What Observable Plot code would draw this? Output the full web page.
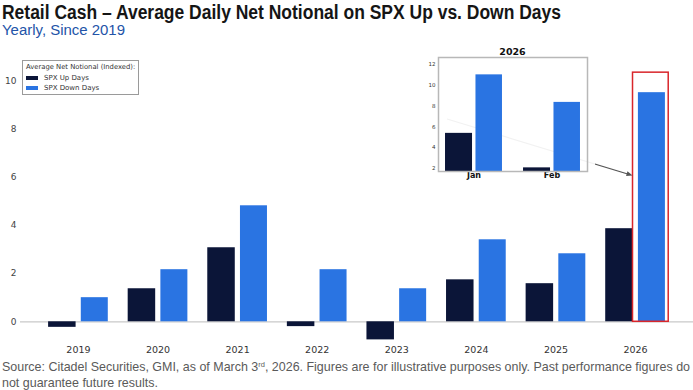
<!DOCTYPE html>
<html><head><meta charset="utf-8">
<script src="https://cdn.jsdelivr.net/npm/d3@7"></script>
<script src="https://cdn.jsdelivr.net/npm/@observablehq/plot@0.6"></script>
<style>
body{margin:0;background:#fff;}
#wrap{position:relative;width:693px;height:390px;overflow:hidden;background:#fff;font-family:"Liberation Sans",Arial,sans-serif;}
.abs{position:absolute;white-space:nowrap;transform-origin:0 0;}
#title{left:2px;top:2px;font-weight:bold;font-size:20px;line-height:20px;color:#151515;font-family:"Liberation Sans Narrow","Arial Narrow","Liberation Sans",sans-serif;}
#subtitle{left:2px;top:23px;font-size:14px;line-height:14px;color:#2354a8;font-family:"Liberation Sans Narrow","Arial Narrow","Liberation Sans",sans-serif;}
.foot{left:2px;font-size:13px;line-height:13px;color:#5a5a5a;font-family:"Liberation Sans Narrow","Arial Narrow","Liberation Sans",sans-serif;}
#main{left:0;top:40px;}
#inset{left:420px;top:44px;background:rgba(255,255,255,0.92);}
#insetTitle{left:438px;width:149px;top:46px;text-align:center;font:bold 9.5px "DejaVu Sans",sans-serif;color:#111;}
#legend{left:22px;top:60px;width:115px;height:33px;border:1px solid #9a9a9a;background:#fff;font-family:"DejaVu Sans",sans-serif;color:#333;}
#legend .lt{position:absolute;left:3px;top:3px;font-size:6.8px;line-height:7px;white-space:nowrap;}
#legend .sw{position:absolute;left:3px;width:12px;height:4px;}
#legend .ll{position:absolute;left:21px;font-size:7px;line-height:7px;white-space:nowrap;}
#overlay{left:0;top:0;}
</style></head>
<body><div id="wrap">
<div id="title" class="abs">Retail Cash – Average Daily Net Notional on SPX Up vs. Down Days</div>
<div id="subtitle" class="abs">Yearly, Since 2019</div>
<div id="main" class="abs"></div>
<svg id="arrowLayer" class="abs" width="693" height="390" style="left:0;top:0;"></svg>
<div id="inset" class="abs"></div>
<div id="insetTitle" class="abs">2026</div>
<div id="legend" class="abs">
  <div class="lt">Average Net Notional (Indexed):</div>
  <div class="sw" style="top:15px;background:#0b1538"></div><div class="ll" style="top:14px">SPX Up Days</div>
  <div class="sw" style="top:25px;background:#2a74e2"></div><div class="ll" style="top:24px">SPX Down Days</div>
</div>
<div id="foot1" class="abs foot" style="top:360px">Source: Citadel Securities, GMI, as of March 3<sup style="font-size:0.6em;vertical-align:0.5em;line-height:0">rd</sup>, 2026. Figures are for illustrative purposes only. Past performance figures do</div>
<div id="foot2" class="abs foot" style="top:376px">not guarantee future results.</div>
</div>
<script>
// ---- data ----
const years = ["2019","2020","2021","2022","2023","2024","2025","2026"];
const upDays = [-0.23, 1.37, 3.07, -0.2, -0.75, 1.74, 1.58, 3.86];
const downDays = [1.0, 2.16, 4.81, 2.16, 1.37, 3.4, 2.82, 9.5];
const yTicks = [0, 2, 4, 6, 8, 10];
const highlightYear = ["2026"];
const highlightTop = [10.33];
const insetMonths = ["Jan", "Feb"];
const insetUp = [5.37, 2.05];
const insetDown = [11.0, 8.35];
const insetTicks = [2, 4, 6, 8, 10, 12];

const navy = "#0b1538", blue = "#2a74e2", red = "#d9262b";

const table = years.map((y, i) => ({year: y, up: upDays[i], down: downDays[i]}));
const hl = highlightYear.map((y, i) => ({year: y, top: highlightTop[i]}));
const itable = insetMonths.map((m, i) => ({month: m, up: insetUp[i], down: insetDown[i]}));

// ---- main chart ----
const W = 693, H = 318, mL = 20, mR = 0, mT = 16, mB = 15;
const pi = 0.25, po = 0.353;
const step = (W - mL - mR) / (years.length - pi + 2 * po);
const bw = step * (1 - pi);
const barW = 27.5;

const main = Plot.plot({
  width: W, height: H, marginLeft: mL, marginRight: mR, marginTop: mT, marginBottom: mB,
  style: {fontFamily: "DejaVu Sans, sans-serif", fontSize: "9px", color: "#444", background: "transparent"},
  x: {domain: years, paddingInner: pi, paddingOuter: po, round: false, tickSize: 0, tickPadding: 3, label: null},
  y: {domain: [-0.9, 11], ticks: yTicks, tickSize: 0, tickPadding: 4, label: null},
  marks: [
    Plot.ruleY([0], {stroke: "#c9c9c9", strokeWidth: 1.2}),
    Plot.barY(table, {x: "year", y: "up", fill: navy, insetRight: bw - barW}),
    Plot.barY(table, {x: "year", y: "down", fill: blue, insetLeft: bw - barW + 0.5}),
    Plot.barY(hl, {x: "year", y1: 0, y2: "top", fill: "none", stroke: red, strokeWidth: 1.5, insetLeft: 27.3, insetRight: bw - 63})
  ]
});
document.getElementById("main").appendChild(main);
d3.select(main).selectAll('g[aria-label="x-axis tick label"] text, g[aria-label="x-axis"] text').attr("fill", "#333").style("font-size", "9.5px");

// ---- inset chart ----
const iW = 175, iH = 140, imL = 18, imR = 8, imT = 13, imB = 13;
const ipi = 0.27, ipo = 0.09;
const istep = (iW - imL - imR) / (insetMonths.length - ipi + 2 * ipo);
const ibw = istep * (1 - ipi);
const inset = Plot.plot({
  width: iW, height: iH, marginLeft: imL, marginRight: imR, marginTop: imT, marginBottom: imB,
  style: {fontFamily: "DejaVu Sans, sans-serif", fontSize: "5.5px", color: "#333", background: "transparent"},
  x: {domain: insetMonths, paddingInner: ipi, paddingOuter: ipo, round: false, tickSize: 0, tickPadding: 1, label: null},
  y: {domain: [1.7, 12.67], ticks: insetTicks, tickSize: 0, tickPadding: 3, label: null},
  marks: [
    Plot.barY(itable, {x: "month", y: "up", fill: navy, insetRight: ibw - 27, clip: true}),
    Plot.barY(itable, {x: "month", y: "down", fill: blue, insetLeft: ibw - 26.5, clip: true}),
    Plot.frame({stroke: "#b8b8b8", strokeWidth: 1.5})
  ]
});
document.getElementById("inset").appendChild(inset);
d3.select(inset).selectAll('g[aria-label="x-axis tick label"] text, g[aria-label="x-axis"] text').style("font-size", "8px").style("font-weight", "bold").attr("fill", "#111");

// ---- arrow from inset to highlighted bar ----
const mx = main.scale("x"), my = main.scale("y");
const ix = inset.scale("x"), iy = inset.scale("y");
const endX = mx.apply(highlightYear[0]) + 27.3, endY = 40 + my.apply(6.05);
const startX = 420 + ix.apply(insetMonths[0]) + 2, startY = 44 + iy.apply(6.7);
const svg = d3.select("#arrowLayer");
svg.append("line").attr("x1", startX).attr("y1", startY).attr("x2", endX - 4).attr("y2", endY - 1.1)
  .attr("stroke", "#555").attr("stroke-width", 1.2);
const ang = Math.atan2(endY - startY, endX - startX);
const hlen = 6, hw = 2.5;
const bx = endX - hlen * Math.cos(ang), by = endY - hlen * Math.sin(ang);
svg.append("path").attr("d", `M${endX},${endY}L${bx - hw * Math.sin(ang)},${by + hw * Math.cos(ang)}L${bx + hw * Math.sin(ang)},${by - hw * Math.cos(ang)}Z`).attr("fill", "#555");

// ---- fit text widths ----
function fit(id, target) {
  const el = document.getElementById(id);
  const w = el.getBoundingClientRect().width;
  el.style.transform = `scaleX(${target / w})`;
  return target / w;
}
fit("title", 559);
fit("subtitle", 123);
const s = fit("foot1", 688);
document.getElementById("foot2").style.transform = `scaleX(${s})`;
</script>
</body></html>
